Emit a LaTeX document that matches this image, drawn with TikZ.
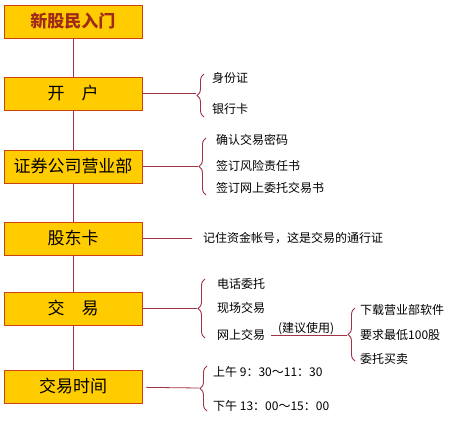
\documentclass[tikz,border=0pt]{standalone}
\usepackage{fontspec}
\setmainfont{Noto Sans CJK SC}
\usepackage{xcolor}
\usetikzlibrary{positioning,decorations.pathreplacing}
\definecolor{boxfill}{HTML}{FFCC00}
\definecolor{boxline}{HTML}{D04010}
\definecolor{titlered}{HTML}{A02A1A}
\definecolor{linkred}{HTML}{A03344}

\begin{document}
\begin{tikzpicture}[x=1pt,y=-1pt,
  stage/.style={draw=boxline,fill=boxfill,line width=0.9pt,minimum width=138pt,minimum height=33pt,inner sep=0pt,font=\fontsize{17}{17}\selectfont},
  note/.style={anchor=west,inner sep=0pt,font=\fontsize{12}{12}\selectfont},
  link/.style={draw=linkred,line width=0.8pt},
  curly/.style={draw=linkred,line width=0.9pt,decorate,decoration={brace,amplitude=7pt}}]
  \useasboundingbox (0,0) rectangle (453,423);

  % main column
  \node[stage,text=titlered,font=\fontsize{17}{17}\selectfont\bfseries] (xgm) at (73,21.5) {新股民入门};
  \node[stage] (kh) at (73,93.5) {开\quad 户};
  \node[stage] (zq) at (73,166.5) {证券公司营业部};
  \node[stage] (gdk) at (73,238.5) {股东卡};
  \node[stage] (jy) at (73,308.5) {交\quad 易};
  \node[stage] (sj) at (73,386.5) {交易时间};
  \path[link] (xgm) -- (kh) (kh) -- (zq) (zq) -- (gdk) (gdk) -- (jy) (jy) -- (sj);

  % brace tips
  \coordinate (khtip) at (196,93.5);
  \coordinate (zqtip) at (198,166.5);
  \coordinate (gdktip) at (192,238.5);
  \coordinate (jytip) at (197,308.5);
  \coordinate (sjtip) at (199,388);
  \path[link,shorten <=4pt] (kh) -- (khtip) (zq) -- (zqtip) (gdk) -- (gdktip)
    (jy) -- (jytip) (sj) -- (sjtip);

  % braces
  \draw[curly] (204,117) -- (204,74);
  \draw[curly] (206,195) -- (206,138);
  \draw[curly] (205,338) -- (205,279);
  \draw[curly] (207,411) -- (207,366);
  \draw[curly] (355,361) -- (355,308);

  % notes
  \node[note] (sfz) at (212,78) {身份证};
  \node[note] (yhk) at (212,109) {银行卡};
  \node[note] (qrmm) at (216,140) {确认交易密码};
  \node[note] (fxs) at (216,166) {签订风险责任书};
  \node[note] (wts) at (216,188) {签订网上委托交易书};
  \node[note] (jzzh) at (203,238.5) {记住资金帐号，这是交易的通行证};
  \node[note] (dhwt) at (217,284) {电话委托};
  \node[note] (xcjy) at (217,308) {现场交易};
  \node[note] (wsjy) at (217,335) {网上交易};
  \node[note] (xzrj) at (360,310) {下载营业部软件};
  \node[note] (zdgs) at (360,335) {要求最低100股};
  \node[note] (wtmm) at (360,359) {委托买卖};
  \node[note] (sw) at (213,372) {上午\ 9：30～11：30};
  \node[note] (xw) at (213,406) {下午\ 13：00～15：00};

  \coordinate (wstip) at (347,335);
  \path[link,shorten <=6pt] (wsjy) -- (wstip)
    node[midway,above=0pt,inner sep=0pt,font=\fontsize{12}{12}\selectfont]{(建议使用)};
\end{tikzpicture}
\end{document}
